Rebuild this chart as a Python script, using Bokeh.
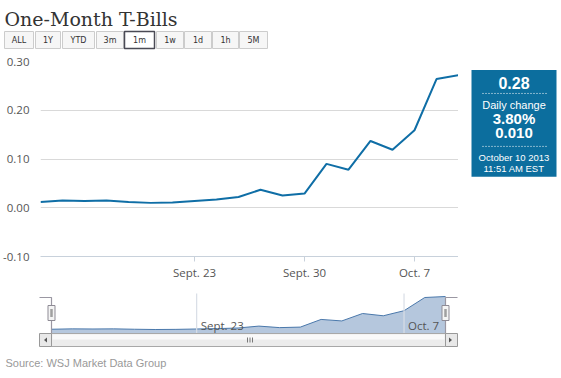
from bokeh.plotting import figure
from bokeh.models import Range1d, FixedTicker, NumeralTickFormatter, ColumnDataSource
from bokeh.layouts import column, row
from bokeh.embed import file_html
from bokeh.resources import INLINE
from bokeh.core.properties import value

# ---------------- data ----------------
dates = ["Sept. 12", "Sept. 13", "Sept. 16", "Sept. 17", "Sept. 18", "Sept. 19",
         "Sept. 20", "Sept. 23", "Sept. 24", "Sept. 25", "Sept. 26", "Sept. 27",
         "Sept. 30", "Oct. 1", "Oct. 2", "Oct. 3", "Oct. 4", "Oct. 7", "Oct. 8",
         "Oct. 9"]
yields = [0.012, 0.015, 0.014, 0.015, 0.012, 0.010, 0.011, 0.014, 0.017, 0.022,
          0.037, 0.025, 0.029, 0.090, 0.078, 0.137, 0.119, 0.159, 0.264, 0.272]
tick_dates = ["Sept. 23", "Sept. 30", "Oct. 7"]
nav_tick_dates = ["Sept. 23", "Oct. 7"]
y_ticks = [-0.10, 0.00, 0.10, 0.20, 0.30]
range_buttons = ["ALL", "1Y", "YTD", "3m", "1m", "1w", "1d", "1h", "5M"]
selected_button = "1m"
title_text = "One-Month T-Bills"
last_value = "0.28"
change_label = "Daily change"
change_pct = "3.80%"
change_abs = "0.010"
stamp_date = "October 10 2013"
stamp_time = "11:51 AM EST"
source_note = "Source: WSJ Market Data Group"

n = len(dates)
idx = list(range(n))
tick_idx = [dates.index(d) for d in tick_dates]
nav_tick_idx = [dates.index(d) for d in nav_tick_dates]
src = ColumnDataSource(dict(x=idx, y=yields))

W, H = 560, 377
LINE = "#0f6ea6"
LABEL = "#555555"


def blank(w, h, x0, x1, y_top, y_bot):
    f = figure(width=w, height=h, x_range=Range1d(x0, x1),
               y_range=Range1d(y_bot, y_top), toolbar_location=None,
               output_backend="svg", min_border=0,
               x_axis_type=None, y_axis_type=None)
    f.outline_line_color = None
    f.background_fill_color = "white"
    f.border_fill_color = "white"
    return f


# ---------------- header ----------------
hdr = blank(W, 50, 0, W, 0, 50)
hdr.text(x=[4], y=[18.5], text=[title_text], text_font=value("DejaVu Serif"),
         text_font_size="19px", text_color="#333333", text_baseline="alphabetic")
b_left = [4, 35, 62, 96, 124, 156, 184, 212, 239]
b_right = [33, 60, 94, 123, 154, 183, 211, 238, 267]
fills = ["white" if b == selected_button else "#f6f6f6" for b in range_buttons]
borders = ["#4a4a55" if b == selected_button else "#cccccc" for b in range_buttons]
widths = [1.5 if b == selected_button else 1 for b in range_buttons]
hdr.quad(left=b_left, right=b_right, top=[31] * 9, bottom=[48] * 9,
         fill_color=fills, line_color=borders, line_width=widths)
hdr.text(x=[(l + r) / 2 for l, r in zip(b_left, b_right)], y=[39.5] * 9,
         text=range_buttons, text_align="center", text_baseline="middle",
         text_font=value("DejaVu Sans"), text_font_size="8px",
         text_color="#333333")

# ---------------- main chart ----------------
main = figure(width=458, height=232, x_range=Range1d(0, n - 1),
              y_range=Range1d(-0.10, 0.30), toolbar_location=None,
              output_backend="svg", min_border_left=39, min_border_right=0,
              min_border_top=11, min_border_bottom=25)
main.outline_line_color = None
main.xgrid.visible = False
main.ygrid.grid_line_color = "#d9d9d9"
main.ygrid.grid_line_width = 1
main.yaxis.ticker = FixedTicker(ticks=y_ticks)
main.yaxis.formatter = NumeralTickFormatter(format="0.00")
main.yaxis.axis_line_color = None
main.yaxis.major_tick_line_color = None
main.yaxis.minor_tick_line_color = None
main.yaxis.major_label_standoff = 5
main.xaxis.ticker = FixedTicker(ticks=tick_idx)
main.xaxis.major_label_overrides = {i: d for i, d in zip(tick_idx, tick_dates)}
main.xaxis.axis_line_color = "#c8d1db"
main.xaxis.major_tick_line_color = "#c8d1db"
main.xaxis.major_tick_out = 5
main.xaxis.major_tick_in = 0
main.xaxis.minor_tick_line_color = None
main.xaxis.major_label_standoff = 3
for ax in (main.xaxis, main.yaxis):
    ax.major_label_text_font = "Open Sans"
    ax.major_label_text_font_size = "11.5px"
    ax.major_label_text_color = LABEL
main.line("x", "y", source=src, line_color=LINE, line_width=2)

# ---------------- info box ----------------
info = blank(W - 458, 232, 458, W, 50, 282)
info.quad(left=[471], right=[556], top=[60], bottom=[187],
          fill_color="#0c6e9e", line_color=None)
cx = 513.5
info.text(x=[cx], y=[75], text=[last_value], text_align="center",
          text_baseline="middle", text_font=value("Liberation Sans"),
          text_font_size="16px", text_font_style="bold", text_color="white")
info.segment(x0=[482, 482], y0=[88, 151], x1=[546, 546], y1=[88, 151],
             line_color="white", line_width=1, line_dash="1 2")
info.text(x=[cx], y=[101.5], text=[change_label], text_align="center",
          text_baseline="middle", text_font=value("Liberation Sans"),
          text_font_size="11px", text_color="white")
info.text(x=[cx, cx], y=[117.5, 135.5], text=[change_pct, change_abs],
          text_align="center", text_baseline="middle",
          text_font=value("Liberation Sans"), text_font_size="15px",
          text_font_style="bold", text_color="white")
info.text(x=[cx, cx], y=[164, 177], text=[stamp_date, stamp_time],
          text_align="center", text_baseline="middle",
          text_font=value("Liberation Sans"), text_font_size="9.5px",
          text_color="white")

# ---------------- navigator ----------------
nav = blank(458, 68, 0, 458, 282, 350)
NAV_L, NAV_R = 51, 445          # pixel extent of navigator series
NAV_MAX_PX, NAV_MIN_PX = 296, 329
s = (NAV_R - NAV_L) / (n - 1)
nav.extra_x_ranges = {"nav": Range1d(0 - (NAV_L - 0) / s,
                                     (n - 1) + (458 - NAV_R) / s)}
vmin, vmax = min(yields), max(yields)
sy = (NAV_MIN_PX - NAV_MAX_PX) / (vmax - vmin)
nav.extra_y_ranges = {"navy": Range1d(vmin - (350 - NAV_MIN_PX) / sy,
                                      vmax + (NAV_MAX_PX - 282) / sy)}
base = vmin - (333 - NAV_MIN_PX) / sy
nav.varea(x="x", y1=base, y2="y", source=src, fill_color="#b5c7dd",
          x_range_name="nav", y_range_name="navy")
nav.line("x", "y", source=src, line_color="#4a78ab", line_width=1,
         x_range_name="nav", y_range_name="navy")
nav.segment(x0=nav_tick_idx, x1=nav_tick_idx, y0=[293] * 2, y1=[333] * 2,
            line_color="#d8dee6", line_width=1.2, x_range_name="nav")
nav.text(x=nav_tick_idx, y=[325] * 2, text=nav_tick_dates, x_offset=4,
         text_baseline="middle", text_font=value("Open Sans"),
         text_font_size="11.5px", text_color=LABEL, x_range_name="nav")
nav.multi_line(xs=[[39, 51, 51], [445, 445, 457]],
               ys=[[297, 297, 333], [333, 297, 297]],
               line_color="#9a97a2", line_width=1.2)
# handles
nav.rect(x=[51, 445], y=[312.5, 312.5], width=7, height=15,
         fill_color="#f4f4f4", line_color="#8e8b95", line_width=1)
nav.rect(x=[51, 445], y=[312.5, 312.5], width=2.5, height=8,
         fill_color="#a0a0a0", line_color=None)
# scrollbar
nav.quad(left=[51], right=[445], top=[333], bottom=[346],
         fill_color="#ececec", line_color="#a8a8a8")
nav.quad(left=[52], right=[444], top=[334], bottom=[339],
         fill_color="#f9f9f9", line_color=None)
nav.quad(left=[39, 445], right=[51, 457], top=[333, 333], bottom=[346, 346],
         fill_color="#e8e8e8", line_color="#999999")
nav.patches(xs=[[43.5, 46.5, 46.5], [451.5, 448.5, 448.5]],
            ys=[[339.5, 337, 342], [339.5, 337, 342]],
            fill_color="#555555", line_color=None)
nav.segment(x0=[247, 249.5, 252], x1=[247, 249.5, 252], y0=[337] * 3,
            y1=[342] * 3, line_color="#777777", line_width=1)

# ---------------- footer ----------------
foot = blank(W, H - 350, 0, W, 350, H)
foot.text(x=[5], y=[362], text=[source_note], text_baseline="middle",
          text_font=value("Liberation Sans"), text_font_size="11px",
          text_color="#999999")

layout = column(hdr, row(main, info), nav, foot)
open("out.html", "w").write(file_html(layout, INLINE))
